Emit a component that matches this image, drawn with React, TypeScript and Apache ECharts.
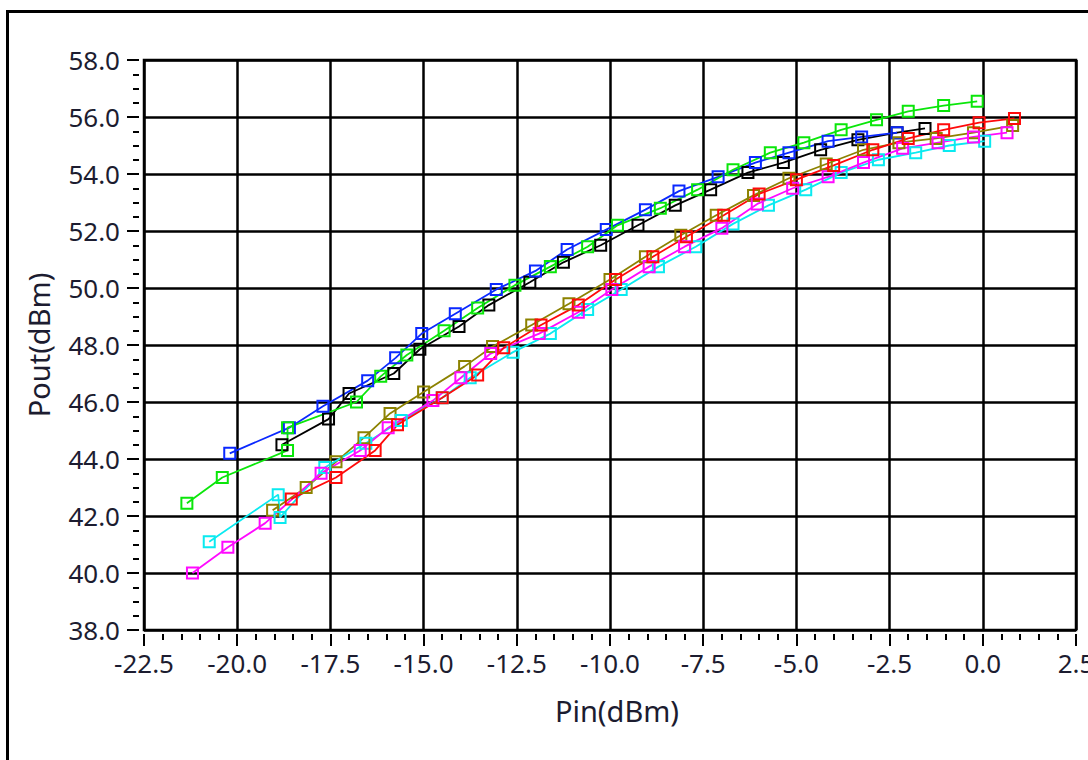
import React, { useEffect, useRef } from "react";
import * as echarts from "echarts";

type Pt = [number, number];

const xTicksMin = -22.5;
const xTicksMax = 2.5;
const xInterval = 2.5;
const yTicksMin = 38;
const yTicksMax = 58;
const yInterval = 2;

const xTitle = "Pin(dBm)";
const yTitle = "Pout(dBm)";

const blue: Pt[] = [
  [-20.2, 44.2], [-18.6, 45.1], [-17.7, 45.85], [-16.5, 46.75], [-15.75, 47.55],
  [-15.05, 48.4], [-14.15, 49.1], [-13.05, 49.95], [-12.0, 50.6], [-11.15, 51.35],
  [-10.1, 52.05], [-9.05, 52.75], [-8.15, 53.4], [-7.1, 53.9], [-6.1, 54.4],
  [-5.2, 54.75], [-4.15, 55.15], [-3.25, 55.3], [-2.3, 55.45],
];

const black: Pt[] = [
  [-18.8, 44.5], [-17.55, 45.4], [-17.0, 46.3], [-15.8, 47.0], [-15.1, 47.85],
  [-14.05, 48.65], [-13.25, 49.4], [-12.15, 50.2], [-11.25, 50.9], [-10.25, 51.5],
  [-9.25, 52.2], [-8.25, 52.9], [-7.3, 53.45], [-6.3, 54.05], [-5.35, 54.4],
  [-4.35, 54.85], [-3.35, 55.2], [-2.3, 55.45], [-1.55, 55.6],
];

const green: Pt[] = [
  [-21.35, 42.45], [-20.4, 43.35], [-18.65, 44.3], [-18.65, 45.1], [-16.8, 46.0],
  [-16.15, 46.9], [-15.45, 47.65], [-14.45, 48.5], [-13.55, 49.3], [-12.55, 50.1],
  [-11.6, 50.75], [-10.6, 51.45], [-9.8, 52.2], [-8.65, 52.8], [-7.65, 53.45],
  [-6.7, 54.15], [-5.7, 54.75], [-4.8, 55.1], [-3.8, 55.55], [-2.85, 55.9],
  [-2.0, 56.2], [-1.05, 56.4], [-0.15, 56.55],
];

const olive: Pt[] = [
  [-19.05, 42.2], [-18.15, 43.0], [-17.35, 43.9], [-16.6, 44.75], [-15.9, 45.6],
  [-15.0, 46.35], [-13.9, 47.25], [-13.15, 47.95], [-12.1, 48.7], [-11.1, 49.45],
  [-10.0, 50.3], [-9.05, 51.1], [-8.1, 51.85], [-7.15, 52.55], [-6.15, 53.25],
  [-5.2, 53.85], [-4.2, 54.35], [-3.2, 54.85], [-2.25, 55.1], [-1.25, 55.25],
  [-0.25, 55.45], [0.8, 55.7],
];

const cyan: Pt[] = [
  [-20.75, 41.1], [-18.9, 42.75], [-18.85, 41.95], [-17.65, 43.7], [-16.55, 44.55],
  [-15.6, 45.35], [-14.5, 46.15], [-13.75, 46.85], [-12.6, 47.75], [-11.6, 48.4],
  [-10.6, 49.25], [-9.7, 49.95], [-8.7, 50.75], [-7.7, 51.45], [-6.7, 52.25],
  [-5.75, 52.9], [-4.75, 53.45], [-3.8, 54.05], [-2.8, 54.5], [-1.8, 54.75],
  [-0.9, 55.0], [0.05, 55.15],
];

const magenta: Pt[] = [
  [-21.2, 40.0], [-20.25, 40.9], [-19.25, 41.75], [-17.75, 43.5], [-16.7, 44.3],
  [-15.95, 45.1], [-14.75, 46.05], [-14.0, 46.85], [-13.2, 47.7], [-11.9, 48.4],
  [-10.85, 49.15], [-9.95, 49.95], [-8.95, 50.75], [-8.0, 51.45], [-7.0, 52.1],
  [-6.05, 52.95], [-5.1, 53.5], [-4.15, 53.9], [-3.2, 54.4], [-2.15, 54.9],
  [-1.2, 55.1], [-0.25, 55.3], [0.65, 55.45],
];

const red: Pt[] = [
  [-18.55, 42.6], [-17.35, 43.35], [-16.3, 44.3], [-15.7, 45.2], [-14.5, 46.15],
  [-13.55, 46.95], [-12.85, 47.9], [-11.85, 48.7], [-10.85, 49.4], [-9.85, 50.3],
  [-8.85, 51.1], [-7.95, 51.8], [-6.95, 52.55], [-6.0, 53.3], [-5.0, 53.8],
  [-4.0, 54.3], [-2.95, 54.85], [-2.0, 55.25], [-1.05, 55.55], [-0.1, 55.8],
  [0.85, 55.95],
];

const seriesList: { name: string; color: string; data: Pt[] }[] = [
  { name: "black", color: "#000000", data: black },
  { name: "blue", color: "#0a28ff", data: blue },
  { name: "green", color: "#0ae60a", data: green },
  { name: "olive", color: "#8c8200", data: olive },
  { name: "cyan", color: "#0aeaf0", data: cyan },
  { name: "magenta", color: "#ff0aff", data: magenta },
  { name: "red", color: "#ff0a0a", data: red },
];

const FONT = "Noto Sans";
const TEXT_COLOR = "#1c1c30";

export default function App() {
  const ref = useRef<HTMLDivElement>(null);

  useEffect(() => {
    document.body.style.margin = "0";
    if (!ref.current) return;
    const chart = echarts.init(ref.current, undefined, { renderer: "svg" });
    chart.setOption({
      animation: false,
      backgroundColor: "#ffffff",
      grid: {
        left: 144,
        right: 12,
        top: 60,
        bottom: 130,
        show: true,
        containLabel: false,
        outerBoundsMode: "none",
        borderColor: "#000",
        borderWidth: 2.5,
        backgroundColor: "transparent",
      },
      xAxis: {
        type: "value",
        min: xTicksMin,
        max: xTicksMax,
        interval: xInterval,
        offset: 4,
        name: xTitle,
        nameLocation: "middle",
        nameGap: 62,
        nameTextStyle: { fontFamily: FONT, fontSize: 29, color: TEXT_COLOR, padding: [0, 0, 0, 14] },
        axisLine: { show: false, onZero: false },
        axisTick: { show: true, length: 12, lineStyle: { color: "#000", width: 2 } },
        minorTick: { show: true, splitNumber: 5, length: 6, lineStyle: { color: "#000", width: 2 } },
        splitLine: { show: true, lineStyle: { color: "#000", width: 2.5 } },
        axisLabel: {
          margin: 16,
          fontFamily: FONT,
          fontSize: 26,
          color: TEXT_COLOR,
          showMinLabel: true,
          showMaxLabel: true,
          hideOverlap: false,
          formatter: (v: number) => v.toFixed(1),
        },
      },
      yAxis: {
        type: "value",
        min: yTicksMin,
        max: yTicksMax,
        interval: yInterval,
        offset: 5,
        name: yTitle,
        nameLocation: "middle",
        nameGap: 86,
        nameTextStyle: { fontFamily: FONT, fontSize: 29, color: TEXT_COLOR },
        axisLine: { show: false, onZero: false },
        axisTick: { show: true, length: 12, lineStyle: { color: "#000", width: 2 } },
        minorTick: { show: true, splitNumber: 4, length: 6, lineStyle: { color: "#000", width: 2 } },
        splitLine: { show: true, lineStyle: { color: "#000", width: 2.5 } },
        axisLabel: {
          margin: 19,
          fontFamily: FONT,
          fontSize: 26,
          color: TEXT_COLOR,
          formatter: (v: number) => v.toFixed(1),
        },
      },
      graphic: [
        {
          type: "rect",
          left: 5,
          top: 9,
          shape: { x: 0, y: 0, width: 1200, height: 900 },
          style: { fill: "none", stroke: "#000", lineWidth: 3 },
          silent: true,
          z: 100,
        },
      ],
      series: seriesList.map((s) => ({
        name: s.name,
        type: "line",
        data: s.data,
        symbol: "rect",
        symbolSize: 11,
        showSymbol: true,
        lineStyle: { color: s.color, width: 1.8 },
        itemStyle: { color: "rgba(0,0,0,0)", borderColor: s.color, borderWidth: 2 },
        emphasis: { disabled: true },
      })),
    });
    return () => chart.dispose();
  }, []);

  return (
    <div
      ref={ref}
      style={{ width: 1088, height: 760, position: "fixed", left: 0, top: 0 }}
    />
  );
}
